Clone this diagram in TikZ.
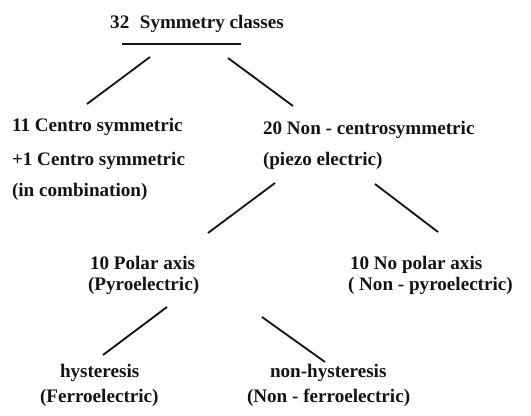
\documentclass[tikz,border=0pt]{standalone}
\usepackage{fontspec}
\setmainfont{Liberation Serif}
\definecolor{inkblack}{RGB}{20,20,20}
\def \globalscale {1.000000}

\begin{document}
\begin{tikzpicture}[y=1cm, x=1cm, yscale=\globalscale,xscale=\globalscale, every node/.append style={scale=\globalscale}, inner sep=0pt, outer sep=0pt,
  label/.style={text=inkblack,anchor=west,font=\fontsize{13.6}{16}\selectfont\bfseries,text height=10pt,text depth=3pt},
  branch/.style={draw=inkblack,line width=1.3pt}]
  \useasboundingbox (0,0) rectangle (13.275,10.4);



  \node[label,anchor=center] (textroot) at (4.925, 9.8){32\hspace{0.55em}Symmetry classes};



  \path[branch] (3.05, 9.3) -- (6.025, 9.3);



  \coordinate (rootleft) at (3.75, 8.975);
  \coordinate (rootright) at (5.7, 8.95);
  \coordinate (centrotop) at (2.175, 7.8);
  \coordinate (noncentrotop) at (7.325, 7.75);
  \path[branch] (rootleft) -- (centrotop);
  \path[branch] (rootright) -- (noncentrotop);



  \begin{scope}[anchor=west]
    \node[label] (textcentro) at (0.3, 7.225){11 Centro symmetric};
    \node[label] (textcentroplus) at (0.3, 6.375){+1 Centro symmetric};
    \node[label] (textcombination) at (0.3, 5.6){(in combination)};



  \end{scope}
  \begin{scope}[anchor=west]
    \node[label] (textnoncentro) at (6.575, 7.15){20 Non - centrosymmetric};
    \node[label] (textpiezo) at (6.575, 6.375){(piezo electric)};



  \end{scope}
  \coordinate (piezoleft) at (6.875, 5.825);
  \coordinate (piezoright) at (9.375, 5.8);
  \coordinate (polartop) at (5.2, 4.575);
  \coordinate (nopolartop) at (10.95, 4.6);
  \path[branch] (piezoleft) -- (polartop);
  \path[branch] (piezoright) -- (nopolartop);



  \begin{scope}[anchor=west]
    \node[label] (textpolar) at (2.25, 3.775){10 Polar axis};
    \node[label] (textpyro) at (2.2, 3.25){(Pyroelectric)};



  \end{scope}
  \begin{scope}[anchor=west]
    \node[label] (textnopolar) at (8.75, 3.775){10 No polar axis};
    \node[label] (textnonpyro) at (8.7, 3.25){( Non - pyroelectric)};



  \end{scope}
  \coordinate (pyroleft) at (4.175, 2.725);
  \coordinate (pyroright) at (6.55, 2.475);
  \coordinate (hysttop) at (2.575, 1.525);
  \coordinate (nonhysttop) at (8.125, 1.35);
  \path[branch] (pyroleft) -- (hysttop);
  \path[branch] (pyroright) -- (nonhysttop);



  \begin{scope}[anchor=west]
    \node[label] (texthyst) at (1.5, 1.075){hysteresis};
    \node[label] (textferro) at (1.0, 0.45){(Ferroelectric)};



  \end{scope}
  \begin{scope}[anchor=west]
    \node[label] (textnonhyst) at (6.75, 1.075){non-hysteresis};
    \node[label] (textnonferro) at (6.175, 0.45){(Non - ferroelectric)};



  \end{scope}

\end{tikzpicture}
\end{document}
